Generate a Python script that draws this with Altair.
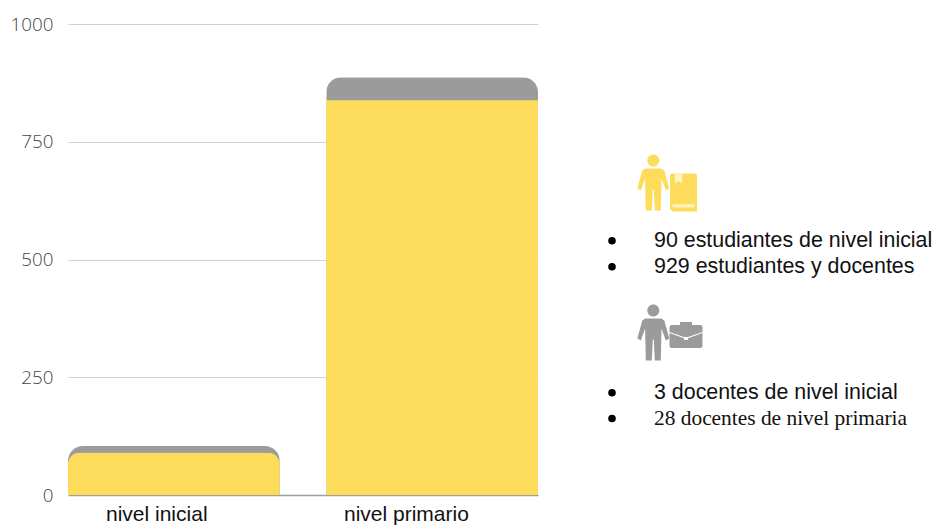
import altair as alt
import pandas as pd

niveles = ["nivel inicial", "nivel primario"]
estudiantes = [90, 838]
total_con_docentes = [104, 887]
ticks_y = [0, 250, 500, 750, 1000]
lineas_sans = ["90 estudiantes de nivel inicial", "929 estudiantes y docentes", "3 docentes de nivel inicial"]
linea_serif = "28 docentes de nivel primaria"

AMARILLO = "#FDDC5C"
GRIS = "#9B9B9B"

barras = pd.DataFrame({"nivel": niveles, "estudiantes": estudiantes, "total": total_con_docentes})
uno = pd.DataFrame({"k": [0]})

x_enc = alt.X("nivel:N", sort=niveles, title=None,
              scale=alt.Scale(paddingInner=0.18, paddingOuter=0),
              axis=alt.Axis(labels=False, ticks=False, domainColor="#A0A0A0", domainWidth=1.4))
y_scale = alt.Scale(domain=[0, 1000])
y_axis = alt.Axis(values=ticks_y, title=None, domain=False, ticks=False, gridColor="#D2D2D2",
                  format="d", labelFont="Open Sans", labelFontSize=18.8, labelColor="#444444",
                  labelFontWeight=300, labelPadding=15)

capa_total = alt.Chart(barras).mark_bar(color=GRIS, cornerRadiusTopLeft=15, cornerRadiusTopRight=15).encode(
    x=x_enc, y=alt.Y("total:Q", scale=y_scale, axis=y_axis))
# La barra baja queda dentro de la tapa gris, por eso conserva las esquinas curvas.
capa_inicial = alt.Chart(barras[barras.nivel == niveles[0]]).mark_bar(
    color=AMARILLO, cornerRadiusTopLeft=12, cornerRadiusTopRight=12).encode(
    x=alt.X("nivel:N", sort=niveles), y=alt.Y("estudiantes:Q", scale=y_scale))
capa_primario = alt.Chart(barras[barras.nivel == niveles[1]]).mark_bar(color=AMARILLO).encode(
    x=alt.X("nivel:N", sort=niveles), y=alt.Y("estudiantes:Q", scale=y_scale))


def texto(contenido, x, y, fuente="Liberation Sans", tam=21.4, align="left", color="#111111"):
    return alt.Chart(uno).mark_text(text=contenido, font=fuente, fontSize=tam, align=align,
                                    baseline="alphabetic", color=color).encode(
        x=alt.value(x), y=alt.value(y))


def vineta(x, y):
    return alt.Chart(uno).mark_point(shape="circle", filled=True, color="#000000", opacity=1, size=58).encode(
        x=alt.value(x), y=alt.value(y))


def unitario(trazos, escala):
    """Convierte contornos en pixeles al cuadrado unitario de un simbolo de Vega."""
    partes = []
    for trazo in trazos:
        pts = [f"{px / escala:.3f},{py / escala:.3f}" for px, py in trazo]
        partes.append("M" + "L".join(pts) + "Z")
    return "".join(partes)


def circulo(cx, cy, r, escala):
    cx, cy, r = cx / escala, cy / escala, r / escala
    return (f"M{cx - r:.3f},{cy:.3f}A{r:.3f},{r:.3f} 0 1 1 {cx + r:.3f},{cy:.3f}"
            f"A{r:.3f},{r:.3f} 0 1 1 {cx - r:.3f},{cy:.3f}Z")


def icono(trazado, x, y, lado, color):
    return alt.Chart(uno).mark_point(shape=trazado, filled=True, color=color, opacity=1, size=lado ** 2,
                                     strokeWidth=0).encode(x=alt.value(x), y=alt.value(y))


CUERPO = [(-8, -14), (8, -14), (11, -12), (16, 6), (12.5, 8), (8.2, -4), (7.5, 28), (1.5, 28),
          (0.5, 7), (-0.5, 7), (-1.5, 28), (-7.5, 28), (-8.2, -4), (-12.5, 8), (-16, 6), (-11, -12)]
PERSONA = unitario([CUERPO], 28.5) + circulo(0, -22, 6, 28.5)
LIBRO = unitario([[(-12, -19), (12, -19), (13.5, -17.5), (13.5, 19), (-11, 19), (-13.5, 16), (-13.5, -17.5)]], 19)
LIBRO_MARCA = unitario([[(-8.5, -19), (-8.5, -9), (-5, -11.5), (-1.5, -9), (-1.5, -19)]], 19)
LIBRO_HOJAS = unitario([[(-11, 11.5), (11, 11.5), (11, 15), (-11, 15)]], 19)
MALETIN = unitario([[(-15, -10), (-6, -10), (-6, -13), (6, -13), (6, -10), (15, -10), (16.5, -8.5), (16.5, 11.5),
                     (15, 13), (-15, 13), (-16.5, 11.5), (-16.5, -8.5)]], 16.5)
MALETIN_LINEA = unitario([[(-16.5, -3), (-2, 2), (2, 2), (16.5, -3), (16.5, -2), (2, 3.2), (2, 5), (-2, 5),
                           (-2, 3.2), (-16.5, -2)]], 16.5)

OX, OY = 68, 24  # origen del area de trazado

adornos = [
    texto(niveles[0], 106 - OX, 521 - OY, tam=21),
    texto(niveles[1], 344 - OX, 521 - OY, tam=21),
    icono(PERSONA, 653.3 - OX, 182.5 - OY, 57, AMARILLO),
    icono(LIBRO, 683.5 - OX, 192.5 - OY, 38, AMARILLO),
    icono(LIBRO_MARCA, 683.5 - OX, 192.5 - OY, 38, "#FFF3C4"),
    icono(LIBRO_HOJAS, 683.5 - OX, 192.5 - OY, 38, "#FFF0B8"),
    icono(PERSONA, 653.3 - OX, 332.5 - OY, 57, GRIS),
    icono(MALETIN, 686 - OX, 335 - OY, 33, GRIS),
    icono(MALETIN_LINEA, 686 - OX, 335 - OY, 33, "#FFFFFF"),
    vineta(612 - OX, 240.7 - OY), vineta(612 - OX, 266.7 - OY),
    vineta(612 - OX, 392.7 - OY), vineta(612 - OX, 418.5 - OY),
    texto(lineas_sans[0], 654 - OX, 246.7 - OY),
    texto(lineas_sans[1], 654 - OX, 273 - OY),
    texto(lineas_sans[2], 654 - OX, 399 - OY),
    texto(linea_serif, 654 - OX, 425 - OY, fuente="Liberation Serif"),
]

chart = alt.layer(capa_total, capa_inicial, capa_primario, *adornos).properties(
    width=470, height=471,
    autosize=alt.AutoSizeParams(type="none"),
    padding={"left": OX, "top": OY, "right": 941 - 538, "bottom": 525 - 495},
).configure_view(stroke=None).configure_legend(disable=True)

chart.save("out.html", embed_options={"renderer": "svg", "actions": False})
